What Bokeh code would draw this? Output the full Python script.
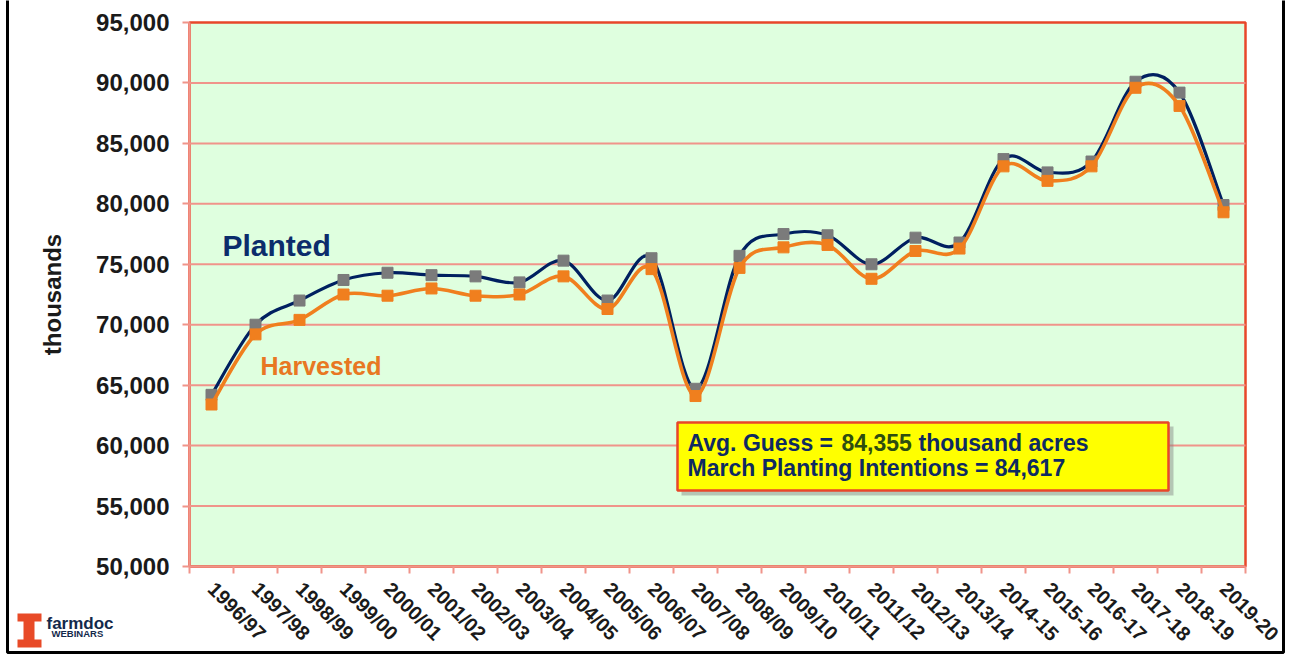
import math
from bokeh.plotting import figure
from bokeh.models import FixedTicker, NumeralTickFormatter, Label, BoxAnnotation, Range1d
from bokeh.embed import file_html
from bokeh.resources import INLINE

seasons = ["1996/97", "1997/98", "1998/99", "1999/00", "2000/01", "2001/02",
           "2002/03", "2003/04", "2004/05", "2005/06", "2006/07", "2007/08",
           "2008/09", "2009/10", "2010/11", "2011/12", "2012/13", "2013/14",
           "2014-15", "2015-16", "2016-17", "2017-18", "2018-19", "2019-20"]
planted = [64200, 70000, 72000, 73700, 74300, 74100, 74000, 73500, 75300, 72000,
           75500, 64700, 75700, 77500, 77400, 75000, 77200, 76800, 83700, 82600,
           83500, 90100, 89200, 79900]
harvested = [63400, 69200, 70400, 72500, 72400, 73000, 72400, 72500, 74000, 71300,
             74600, 64100, 74700, 76400, 76600, 73800, 76100, 76300, 83100, 81900,
             83100, 89600, 88100, 79300]
y_ticks = [50000, 55000, 60000, 65000, 70000, 75000, 80000, 85000, 90000, 95000]

NAVY = "#002060"
ORANGE = "#F07F1E"
GRAY = "#7B7B7B"
SALMON = "#F0948A"
FRAME_RED = "#E8472A"
TEXT_NAVY = "#0E2A62"
FONT = "Liberation Sans"

n = len(seasons)
xs = [i + 0.5 for i in range(n)]
Y0, Y1 = y_ticks[0], y_ticks[-1]

# canvas geometry (px): plot area left 189, right 1245, top 22, bottom 566
W, H = 1290, 655
FL, FR, FT, FB = 189, 1245, 22, 566
KX = (FR - FL) / n             # px per category
KY = (FB - FT) / (Y1 - Y0)     # px per unit of y
TY = -9                        # text baseline correction (px)


def sx(px):
    return (px - FL) / KX


def sy(py):
    return Y0 + (FB - py) / KY


def bezier_segments(x, y):
    m = len(x)
    d = dict(x0=[], y0=[], x1=[], y1=[], cx0=[], cy0=[], cx1=[], cy1=[])
    for i in range(m - 1):
        a = max(i - 1, 0)
        b = min(i + 2, m - 1)
        d["x0"].append(x[i]); d["y0"].append(y[i])
        d["x1"].append(x[i + 1]); d["y1"].append(y[i + 1])
        d["cx0"].append(x[i] + (x[i + 1] - x[a]) / 6.0)
        d["cy0"].append(y[i] + (y[i + 1] - y[a]) / 6.0)
        d["cx1"].append(x[i + 1] - (x[b] - x[i]) / 6.0)
        d["cy1"].append(y[i + 1] - (y[b] - y[i]) / 6.0)
    return d


def box(l, r, t, b, **kw):
    opts = dict(fill_alpha=1.0, line_alpha=1.0, line_color=None)
    opts.update(kw)
    return BoxAnnotation(left=sx(l), right=sx(r), top=sy(t), bottom=sy(b), **opts)


def text(px, py, s, size, color, style="bold"):
    return Label(x=sx(px), y=sy(py + TY), text=s, text_font=FONT,
                 text_font_style=style, text_font_size=size, text_color=color,
                 text_baseline="alphabetic")


p = figure(width=W, height=H, output_backend="svg", toolbar_location=None,
           x_range=Range1d(sx(0), sx(W)), y_range=Range1d(sy(H), sy(0)),
           min_border=0, min_border_left=0, min_border_right=0,
           min_border_top=0, min_border_bottom=0)
p.background_fill_color = "white"
p.border_fill_color = "white"
p.outline_line_color = None
p.xgrid.visible = False
p.ygrid.visible = False

# plot area background with red border (left/bottom covered by axes)
p.add_layout(BoxAnnotation(left=0, right=n, bottom=Y0, top=Y1, level="underlay",
                           fill_color="#DFFFDF", fill_alpha=1.0,
                           line_color=FRAME_RED, line_alpha=1.0, line_width=2.5))

# horizontal grid lines
gy = y_ticks[1:-1]
p.segment(x0=[0] * len(gy), x1=[n] * len(gy), y0=gy, y1=gy,
          line_color=SALMON, line_width=2)

# x axis: labels at category centres, ticks at boundaries
p.xaxis.fixed_location = Y0
p.xaxis.bounds = (0, n)
p.xaxis.ticker = FixedTicker(ticks=xs, minor_ticks=list(range(n + 1)))
p.xaxis.major_label_overrides = {x: s for x, s in zip(xs, seasons)}
p.xaxis.major_tick_out = 0
p.xaxis.major_tick_in = 0
p.xaxis.minor_tick_out = 7
p.xaxis.minor_tick_in = 0
p.xaxis.minor_tick_line_color = SALMON
p.xaxis.minor_tick_line_width = 2
p.xaxis.axis_line_color = SALMON
p.xaxis.axis_line_width = 2
p.xaxis.major_label_orientation = -math.pi / 4
p.xaxis.major_label_standoff = 12
p.xaxis.major_label_text_font = FONT
p.xaxis.major_label_text_font_style = "bold"
p.xaxis.major_label_text_font_size = "20px"
p.xaxis.major_label_text_color = "#1A1A1A"

# y axis
p.yaxis.fixed_location = 0
p.yaxis.bounds = (Y0, Y1)
p.yaxis.ticker = FixedTicker(ticks=y_ticks)
p.yaxis.formatter = NumeralTickFormatter(format="0,0")
p.yaxis.major_tick_out = 7
p.yaxis.major_tick_in = 0
p.yaxis.minor_tick_out = 0
p.yaxis.minor_tick_in = 0
p.yaxis.major_tick_line_color = SALMON
p.yaxis.major_tick_line_width = 2
p.yaxis.axis_line_color = SALMON
p.yaxis.axis_line_width = 2
p.yaxis.major_label_standoff = 13
p.yaxis.major_label_text_font = FONT
p.yaxis.major_label_text_font_style = "bold"
p.yaxis.major_label_text_font_size = "24px"
p.yaxis.major_label_text_color = "#1A1A1A"
p.yaxis.axis_label = "thousands"
p.yaxis.axis_label_text_font = FONT
p.yaxis.axis_label_text_font_style = "bold"
p.yaxis.axis_label_text_font_size = "24px"
p.yaxis.axis_label_text_color = "#1A1A1A"
p.yaxis.axis_label_standoff = 27

# series
bp = bezier_segments(xs, planted)
p.bezier(source=bp, x0="x0", y0="y0", x1="x1", y1="y1", cx0="cx0", cy0="cy0",
         cx1="cx1", cy1="cy1", line_color=NAVY, line_width=3.2, line_cap="round")
p.scatter(xs, planted, marker="square", size=11, fill_color=GRAY, line_color=GRAY)
bh = bezier_segments(xs, harvested)
p.bezier(source=bh, x0="x0", y0="y0", x1="x1", y1="y1", cx0="cx0", cy0="cy0",
         cx1="cx1", cy1="cy1", line_color=ORANGE, line_width=3.6, line_cap="round")
p.scatter(xs, harvested, marker="square", size=11, fill_color=ORANGE, line_color=ORANGE)

# series labels
p.add_layout(text(222, 254, "Planted", "30px", "#0B2C6B"))
p.add_layout(text(260, 374, "Harvested", "25px", "#E87722"))

# annotation box with shadow
p.add_layout(box(681, 1173, 426, 495, fill_color="#808080", fill_alpha=0.45))
p.add_layout(box(677, 1168, 422, 490, fill_color="#FFFF00",
                 line_color=FRAME_RED, line_width=2.5))
p.add_layout(text(687, 451, "Avg. Guess =", "23px", TEXT_NAVY))
p.add_layout(text(841, 451, "84,355", "23px", "#2E4D10"))
p.add_layout(text(918, 451, "thousand acres", "23px", TEXT_NAVY))
p.add_layout(text(687, 476, "March Planting Intentions = 84,617", "23px", TEXT_NAVY))

# outer black border
p.add_layout(box(7, 1283, -20, 652, fill_alpha=0, line_color="black", line_width=3))

# logo
LOGO = "#E84A27"
p.add_layout(box(17, 41, 613, 621, fill_color=LOGO))
p.add_layout(box(23, 34, 620, 640, fill_color=LOGO))
p.add_layout(box(17, 41, 639, 647, fill_color=LOGO))
p.add_layout(text(46, 632, "farmdoc", "17px", "#13294B"))
p.add_layout(text(51, 642, "WEBINARS", "9.5px", "#13294B"))

open("out.html", "w").write(file_html(p, INLINE))
